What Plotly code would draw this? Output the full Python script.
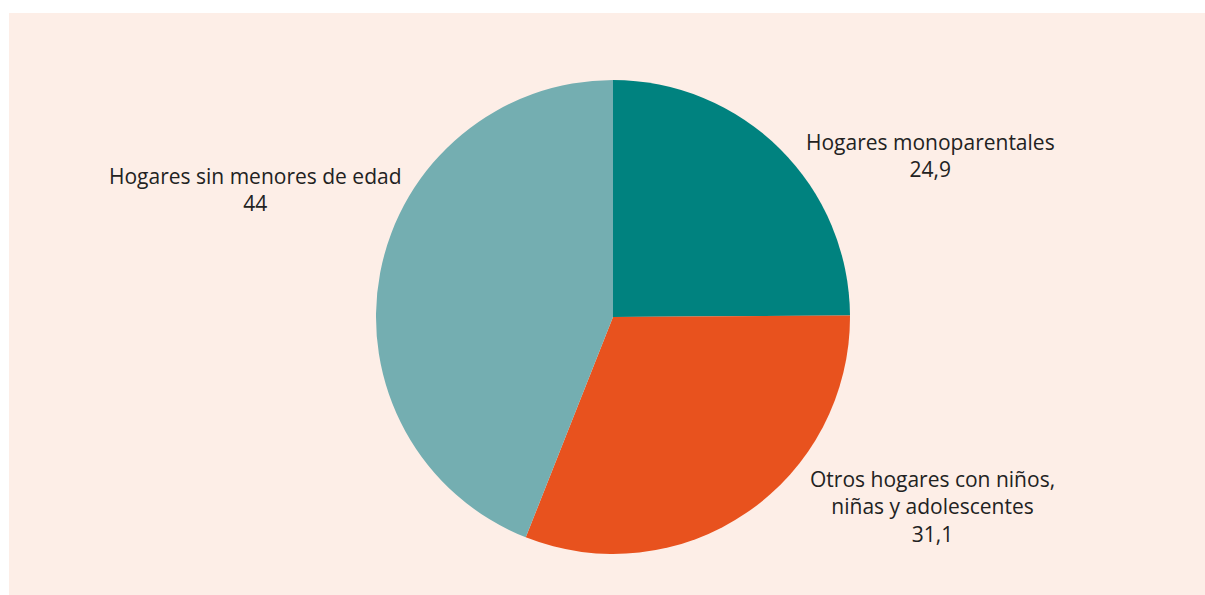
import plotly.graph_objects as go

labels = ["Hogares monoparentales", "Otros hogares con niños, niñas y adolescentes", "Hogares sin menores de edad"]
label_lines = ["Hogares monoparentales", "Otros hogares con niños,<br>niñas y adolescentes", "Hogares sin menores de edad"]
values = [24.9, 31.1, 44]
value_text = ["24,9", "31,1", "44"]
colors = ["#00827f", "#e8521e", "#74aeb1"]

W, H = 1205, 595

fig = go.Figure(go.Pie(
    labels=labels,
    values=values,
    sort=False,
    direction="clockwise",
    rotation=0,
    marker=dict(colors=colors, line=dict(width=0)),
    textinfo="none",
    hoverinfo="label+value",
    showlegend=False,
    domain=dict(x=[376 / W, 850 / W], y=[(H - 554) / H, (H - 80) / H]),
))

# label positions (pixel centres of the text blocks)
label_pos = [(930, 156), (932, 506), (255, 189)]
for txt, val, (px, py) in zip(label_lines, value_text, label_pos):
    fig.add_annotation(
        x=px / W, y=1 - py / H, xref="paper", yref="paper",
        text=txt + "<br>" + val, showarrow=False,
        xanchor="center", yanchor="middle", align="center",
        font=dict(family="Open Sans", size=21, color="#222222"),
    )

fig.add_shape(type="rect", xref="paper", yref="paper",
              x0=9 / W, x1=1, y0=0, y1=1 - 13 / H,
              fillcolor="#fdeee7", line=dict(width=0), layer="below")

fig.update_layout(
    width=W, height=H,
    margin=dict(l=0, r=0, t=0, b=0),
    paper_bgcolor="white",
)

fig.write_html("out.html", config={"displayModeBar": False},
               post_script="document.body.style.margin='0';document.body.style.overflow='hidden';")
